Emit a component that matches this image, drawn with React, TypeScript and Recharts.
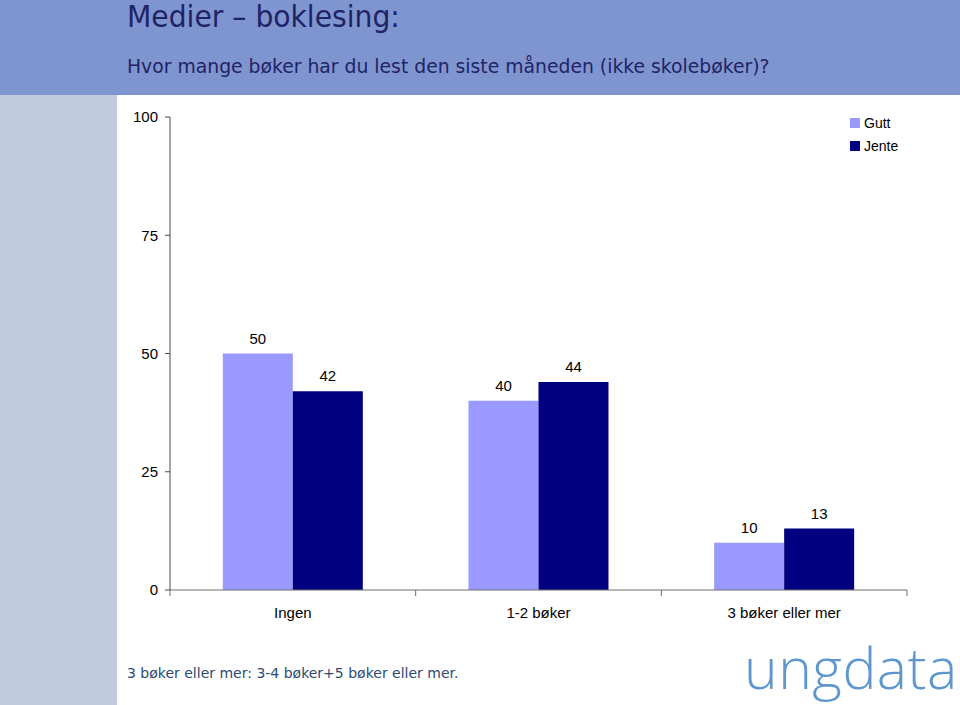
import { BarChart, Bar, XAxis, YAxis, Legend, LabelList } from 'recharts';

// Category labels and series values
const categories = ['Ingen', '1-2 bøker', '3 bøker eller mer'];
const gutt = [50, 40, 10];
const jente = [42, 44, 13];
const yTicks = [0, 25, 50, 75, 100];

const SERIES = [
  { key: 'Gutt', color: '#9999FF' },
  { key: 'Jente', color: '#000080' },
];

const data = categories.map((name, i) => ({ name, Gutt: gutt[i], Jente: jente[i] }));

const CHART_W = 843;
const CHART_H = 610;
const MARGIN = { top: 22, right: 53, bottom: 85, left: 0 };
const Y_AXIS_W = 53;
const PLOT_W = CHART_W - MARGIN.left - MARGIN.right - Y_AXIS_W;
const FONT = '"Liberation Sans", Arial, sans-serif';
const SLIDE_FONT = '"DejaVu Sans", Verdana, sans-serif';

// Category label plus tick marks on the band edges
function CategoryTick(props: any) {
  const { x, y, payload, index } = props;
  const count = props.visibleTicksCount || categories.length;
  const band = PLOT_W / count;
  const left = x - band / 2;
  return (
    <g>
      <line x1={left} y1={y} x2={left} y2={y + 6} stroke="#6e6e6e" />
      {index === count - 1 && <line x1={left + band} y1={y} x2={left + band} y2={y + 6} stroke="#6e6e6e" />}
      <text x={x} y={y + 28} textAnchor="middle" fontSize={15} fontFamily={FONT} fill="#000">
        {payload.value}
      </text>
    </g>
  );
}

function LegendBox(props: any) {
  const items = props.payload || [];
  return (
    <div style={{ fontFamily: FONT, fontSize: 14, color: '#000' }}>
      {items.map((it: any) => (
        <div key={it.value} style={{ display: 'flex', alignItems: 'center', height: 23 }}>
          <span style={{ width: 10, height: 10, background: it.color, marginRight: 4, display: 'inline-block' }} />
          {it.value}
        </div>
      ))}
    </div>
  );
}

export default function App() {
  return (
    <div style={{ position: 'absolute', left: 0, top: 0, width: 960, height: 705, overflow: 'hidden', background: '#fff' }}>
      <div style={{ position: 'absolute', left: 0, top: 0, width: 960, height: 95, background: '#7F95CF' }} />
      <div style={{ position: 'absolute', left: 0, top: 95, width: 117, height: 610, background: '#C0CBDF' }} />

      <div
        style={{
          position: 'absolute', left: 127, top: 2, fontFamily: SLIDE_FONT, fontSize: 30, lineHeight: '30px',
          color: '#1F2466', whiteSpace: 'nowrap', transform: 'scaleX(0.94)', transformOrigin: 'left top',
        }}
      >
        Medier – boklesing:
      </div>
      <div style={{ position: 'absolute', left: 127, top: 56, fontFamily: SLIDE_FONT, fontSize: 18.8, color: '#1F2466', whiteSpace: 'nowrap' }}>
        Hvor mange bøker har du lest den siste måneden (ikke skolebøker)?
      </div>

      <div style={{ position: 'absolute', left: 117, top: 95 }}>
        <BarChart width={CHART_W} height={CHART_H} data={data} margin={MARGIN} barCategoryGap="21.5%" barGap={0}>
          <XAxis
            dataKey="name"
            height={30}
            axisLine={{ stroke: '#6e6e6e' }}
            tickLine={false}
            tickSize={0}
            tickMargin={0}
            interval={0}
            tick={<CategoryTick />}
          />
          <YAxis
            width={Y_AXIS_W}
            domain={[0, 100]}
            ticks={yTicks}
            interval={0}
            axisLine={{ stroke: '#4d4d4d' }}
            tickLine={{ stroke: '#4d4d4d' }}
            tickSize={5}
            tickMargin={7}
            tick={{ fontSize: 15, fontFamily: FONT, fill: '#000' }}
          />
          <Legend
            layout="vertical"
            align="center"
            verticalAlign="middle"
            content={<LegendBox />}
            wrapperStyle={{ left: 733, top: 16, width: 100 }}
          />
          {SERIES.map((s) => (
            <Bar key={s.key} dataKey={s.key} fill={s.color} isAnimationActive={false}>
              <LabelList dataKey={s.key} position="top" offset={10} fontSize={15} fontFamily={FONT} fill="#000" />
            </Bar>
          ))}
        </BarChart>
      </div>

      <div style={{ position: 'absolute', left: 127, top: 665, fontFamily: SLIDE_FONT, fontSize: 14, color: '#2B4A72', whiteSpace: 'nowrap' }}>
        3 bøker eller mer: 3-4 bøker+5 bøker eller mer.
      </div>
      <div
        style={{
          position: 'absolute', left: 744, top: 639, fontFamily: '"Open Sans", Lato, sans-serif', fontWeight: 300,
          fontSize: 57, lineHeight: '57px', color: '#5E97CE', whiteSpace: 'nowrap', letterSpacing: 0.5,
        }}
      >
        ungdata
      </div>
    </div>
  );
}
